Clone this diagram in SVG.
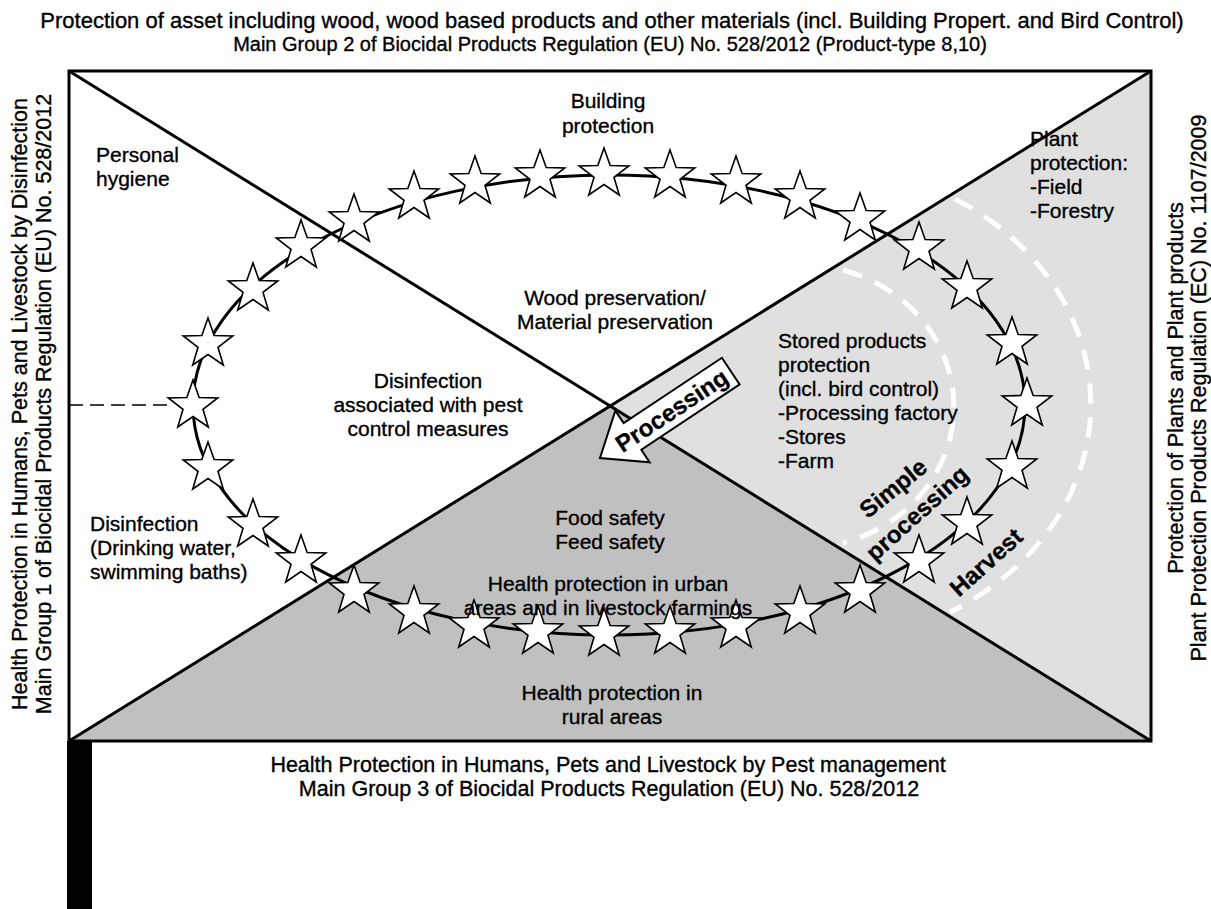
<svg xmlns="http://www.w3.org/2000/svg" xmlns:xlink="http://www.w3.org/1999/xlink" width="1211" height="909" viewBox="0 0 1211 909">
<style>
text{font-family:"Liberation Sans",Arial,sans-serif;font-size:21px;fill:#000;stroke:#000;stroke-width:0.35}
.c{text-anchor:middle}
.b{font-weight:bold;font-size:24px;stroke-width:0.3}
.t{font-size:21.5px}
.ln{stroke:#000;stroke-width:3;fill:none}
.st{fill:#fff;stroke:#000;stroke-width:1.6;stroke-linejoin:miter}
.wd{fill:none;stroke:#fff;stroke-width:5;stroke-dasharray:20 14}
</style>
<defs>
<path id="star" d="M0,-26 L6.17,-8.49 L24.73,-8.03 L9.99,3.24 L15.28,21.03 L0,10.5 L-15.28,21.03 L-9.99,3.24 L-24.73,-8.03 L-6.17,-8.49 Z"/>
</defs>
<rect width="1211" height="909" fill="#fff"/>
<g id="regions">
<polygon points="69,71 1151,71 610,406" fill="#fff"/>
<polygon points="69,71 610,406 69,741" fill="#fff"/>
<polygon points="1151,71 1151,741 610,406" fill="#e0e0e0"/>
<polygon points="69,741 1151,741 610,406" fill="#c0c0c0"/>
</g>
<g id="arcs">
<path class="wd" d="M843,270 A153 142 0 0 1 843,543"/>
<path class="wd" d="M955,199 A282 240 0 0 1 950,612"/>
</g>
<g id="connectors">
<rect class="ln" x="69" y="71" width="1082" height="670"/>
<line class="ln" x1="69" y1="71" x2="1151" y2="741"/>
<line class="ln" x1="69" y1="741" x2="1151" y2="71"/>
<line x1="69" y1="405" x2="172" y2="405" stroke="#000" stroke-width="1.3" stroke-dasharray="14 7"/>
<rect x="67" y="741" width="25" height="168" fill="#000"/>
<ellipse cx="609" cy="405" rx="416" ry="230" fill="none" stroke="#000" stroke-width="3"/>
</g>
<g id="stars">
<use href="#star" class="st" x="193" y="406"/>
<use href="#star" class="st" x="208" y="344"/>
<use href="#star" class="st" x="253" y="289"/>
<use href="#star" class="st" x="301" y="246"/>
<use href="#star" class="st" x="354" y="220"/>
<use href="#star" class="st" x="414" y="197"/>
<use href="#star" class="st" x="475" y="182"/>
<use href="#star" class="st" x="540" y="176"/>
<use href="#star" class="st" x="604" y="174"/>
<use href="#star" class="st" x="670" y="176"/>
<use href="#star" class="st" x="736" y="182"/>
<use href="#star" class="st" x="800" y="197"/>
<use href="#star" class="st" x="860" y="219"/>
<use href="#star" class="st" x="919" y="248"/>
<use href="#star" class="st" x="967" y="287"/>
<use href="#star" class="st" x="1012" y="343"/>
<use href="#star" class="st" x="1027" y="404"/>
<use href="#star" class="st" x="1012" y="467"/>
<use href="#star" class="st" x="967" y="523"/>
<use href="#star" class="st" x="919" y="561"/>
<use href="#star" class="st" x="860" y="591"/>
<use href="#star" class="st" x="800" y="612"/>
<use href="#star" class="st" x="736" y="626"/>
<use href="#star" class="st" x="670" y="632"/>
<use href="#star" class="st" x="604" y="634"/>
<use href="#star" class="st" x="538" y="632"/>
<use href="#star" class="st" x="474" y="626"/>
<use href="#star" class="st" x="414" y="612"/>
<use href="#star" class="st" x="354" y="591"/>
<use href="#star" class="st" x="301" y="561"/>
<use href="#star" class="st" x="253" y="525"/>
<use href="#star" class="st" x="208" y="468"/>
</g>
<g id="processing-arrow" transform="translate(600,458) rotate(-33.6)">
<polygon points="0,0 39,-31 39,-16 157,-16 157,16 39,16 39,31" fill="#fff" stroke="#000" stroke-width="2" stroke-linejoin="miter"/>
<text class="c b" x="86" y="8.5">Processing</text>
</g>
<g id="label-simple">
<text class="c b" transform="translate(893,488) rotate(-39)" y="8.5">Simple</text>
<text class="c b" transform="translate(917,513) rotate(-42)" y="8.5">processing</text>
</g>
<g id="label-harvest">
<text class="c b" transform="translate(986,562) rotate(-42)" y="8.5">Harvest</text>
</g>
<g id="title-top">
<text class="c" x="612" y="28" style="font-size:22px">Protection of asset including wood, wood based products and other materials (incl. Building Propert. and Bird Control)</text>
<text class="c" x="610" y="51" style="font-size:20px">Main Group 2 of Biocidal Products Regulation (EU) No. 528/2012 (Product-type 8,10)</text>
</g>
<g id="title-bottom">
<text class="c t" x="608" y="772">Health Protection in Humans, Pets and Livestock by Pest management</text>
<text class="c t" x="609" y="796">Main Group 3 of Biocidal Products Regulation (EU) No. 528/2012</text>
</g>
<g id="title-left">
<text class="c t" transform="translate(27,404) rotate(-90)">Health Protection in Humans, Pets and Livestock by Disinfection</text>
<text class="c t" transform="translate(51,404) rotate(-90)">Main Group 1 of Biocidal Products Regulation (EU) No. 528/2012</text>
</g>
<g id="title-right">
<text class="c t" transform="translate(1183,388) rotate(-90)">Protection of Plants and Plant products</text>
<text class="c t" transform="translate(1206,388) rotate(-90)">Plant Protection Products Regulation (EC) No. 1107/2009</text>
</g>
<g id="building">
<text class="c" x="608" y="108">Building</text>
<text class="c" x="608" y="133">protection</text>
</g>
<g id="personal">
<text x="96" y="162">Personal</text>
<text x="96" y="186">hygiene</text>
</g>
<g id="plant">
<text x="1030" y="146">Plant</text>
<text x="1030" y="170">protection:</text>
<text x="1030" y="194">-Field</text>
<text x="1030" y="218">-Forestry</text>
</g>
<g id="wood">
<text class="c" x="615" y="305">Wood preservation/</text>
<text class="c" x="615" y="329">Material preservation</text>
</g>
<g id="stored">
<text x="778" y="348">Stored products</text>
<text x="778" y="372">protection</text>
<text x="778" y="396">(incl. bird control)</text>
<text x="778" y="420">-Processing factory</text>
<text x="778" y="444">-Stores</text>
<text x="778" y="468">-Farm</text>
</g>
<g id="disinfection-pest">
<text class="c" x="428" y="388">Disinfection</text>
<text class="c" x="428" y="412">associated with pest</text>
<text class="c" x="428" y="436">control measures</text>
</g>
<g id="food">
<text class="c" x="610" y="525">Food safety</text>
<text class="c" x="610" y="549">Feed safety</text>
</g>
<g id="urban">
<text class="c" x="608" y="591">Health protection in urban</text>
<text class="c" x="608" y="615">areas and in livestock farmings</text>
</g>
<g id="rural">
<text class="c" x="612" y="700">Health protection in</text>
<text class="c" x="612" y="724">rural areas</text>
</g>
<g id="disinfection-water">
<text x="90" y="531">Disinfection</text>
<text x="90" y="555">(Drinking water,</text>
<text x="90" y="579">swimming baths)</text>
</g>
</svg>
